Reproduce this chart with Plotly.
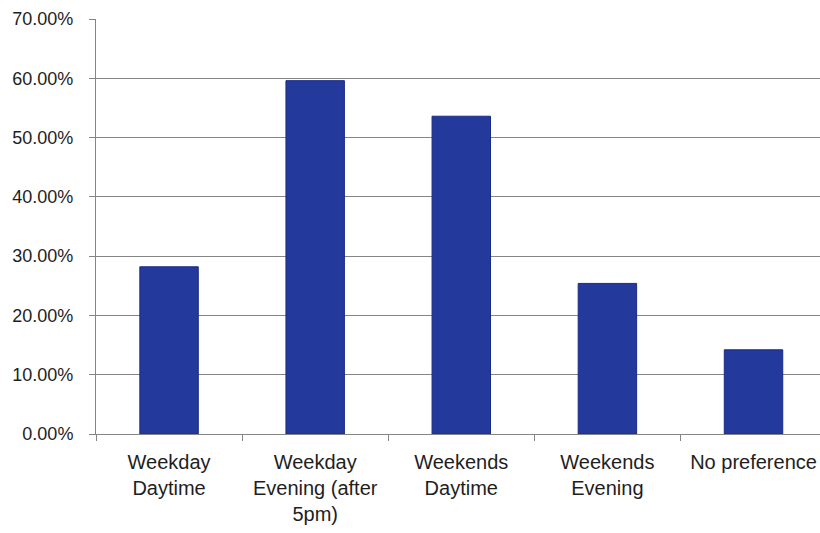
import plotly.graph_objects as go

# Preferred session times (share of respondents)
categories = [
    "Weekday<br>Daytime",
    "Weekday<br>Evening (after<br>5pm)",
    "Weekends<br>Daytime",
    "Weekends<br>Evening",
    "No preference",
]
shares = [0.282, 0.596, 0.536, 0.254, 0.142]
y_ticks = [0.0, 0.1, 0.2, 0.3, 0.4, 0.5, 0.6, 0.7]

fig = go.Figure(
    go.Bar(
        x=categories,
        y=shares,
        width=0.40,
        marker=dict(color="#233a9c", line=dict(color="#1a2a86", width=1)),
        hoverinfo="skip",
    )
)

fig.update_layout(
    width=820,
    height=533,
    margin=dict(l=96, r=0, t=19, b=99),
    paper_bgcolor="white",
    plot_bgcolor="white",
    showlegend=False,
)

fig.update_yaxes(
    range=[0, 0.70],
    tickvals=y_ticks,
    tickformat=".2%",
    showgrid=True,
    gridcolor="#858585",
    gridwidth=1,
    showline=True,
    linecolor="#858585",
    linewidth=1,
    ticks="outside",
    ticklen=6,
    tickcolor="#858585",
    ticklabelstandoff=12,
    zeroline=False,
    tickfont=dict(family="Liberation Sans, Arial, sans-serif", size=18, color="#1e1e1e"),
)

fig.update_xaxes(
    range=[-0.5, 4.455],
    showline=True,
    linecolor="#858585",
    linewidth=1,
    ticks="outside",
    tickson="boundaries",
    ticklen=6,
    tickcolor="#858585",
    showgrid=False,
    tickangle=0,
    ticklabelstandoff=10,
    tickfont=dict(family="Liberation Sans, Arial, sans-serif", size=20, color="#1e1e1e"),
)

fig.write_html("out.html")
